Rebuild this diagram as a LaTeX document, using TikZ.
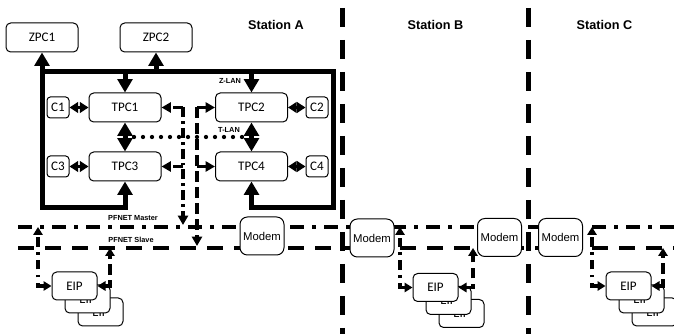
\documentclass[tikz,border=0pt]{standalone}
\usepackage{fontspec}
\setmainfont{Carlito}
\newfontfamily\arialfont{Liberation Sans}
\usetikzlibrary{arrows.meta,calc,backgrounds}

\begin{document}
\begin{tikzpicture}[x=0.75pt, y=-0.75pt,
    box/.style={draw, fill=white, line width=0.75pt, rounded corners=3.5pt, inner sep=0pt, font=\fontsize{9.8}{11}\selectfont},
    pcbox/.style={box, minimum width=54pt, minimum height=21.75pt},
    cbox/.style={box, rounded corners=2.5pt, minimum width=16.5pt, minimum height=15.75pt},
    modembox/.style={box, rounded corners=5.5pt, minimum width=33pt, minimum height=28.5pt, font=\arialfont\fontsize{8.5}{10}\selectfont},
    eipbox/.style={box, minimum width=33.75pt, minimum height=21pt},
    station/.style={font=\arialfont\bfseries\fontsize{9.5}{11}\selectfont},
    lanlabel/.style={inner sep=0pt, font=\arialfont\bfseries\fontsize{5.5}{6}\selectfont},
    zlan/.style={line width=3.75pt},
    cconn/.style={line width=2.25pt},
    tlan/.style={line width=3.2pt, line cap=round, dash pattern=on 0pt off 6.75pt},
    master/.style={line width=3.4pt, dash pattern=on 10.5pt off 6pt on 3pt off 6pt},
    slave/.style={line width=3.4pt, dash pattern=on 12pt off 8.25pt},
    tconm/.style={line width=2.6pt, dash pattern=on 7.5pt off 3pt on 2pt off 3pt},
    tcons/.style={line width=2.6pt, dash pattern=on 8pt off 4pt},
    econm/.style={line width=2.6pt, dash pattern=on 7pt off 4pt on 2pt off 4pt},
    econs/.style={line width=2.6pt, dash pattern=on 8pt off 4pt},
    divider/.style={line width=3.75pt, dash pattern=on 14.25pt off 9.75pt},
    Zhead/.tip={Triangle[width=11pt,length=10pt]},
    Chead/.tip={Triangle[width=8pt,length=6.5pt]},
    Thead/.tip={Triangle[width=7.5pt,length=7pt]},
    Ehead/.tip={Triangle[width=7pt,length=6pt]}]
  \useasboundingbox (0,0) rectangle (674,334);

  \node[station] (stA) at (276,25) {Station A};
  \node[station] (stB) at (435.5,25) {Station B};
  \node[station] (stC) at (604.5,25) {Station C};
  \foreach \x in {342,528} { \draw[divider] (\x,8) -- (\x,334); }

  \node[pcbox] (zpc1) at (42,37.5) {ZPC1};
  \node[pcbox] (zpc2) at (156,37.5) {ZPC2};
  \node[pcbox] (tpc1) at (125,107.5) {TPC1};
  \node[pcbox] (tpc2) at (251.5,107.5) {TPC2};
  \node[pcbox] (tpc3) at (125,166.5) {TPC3};
  \node[pcbox] (tpc4) at (251.5,166.5) {TPC4};
  \node[cbox] (c1) at (58,107.5) {C1};
  \node[cbox] (c2) at (317,107.5) {C2};
  \node[cbox] (c3) at (58,166.5) {C3};
  \node[cbox] (c4) at (317,166.5) {C4};

  \node[modembox] (modemA) at (262,236) {Modem};
  \node[modembox] (modemB1) at (372,238) {Modem};
  \node[modembox] (modemB2) at (499.5,237.5) {Modem};
  \node[modembox] (modemC) at (560.5,237.5) {Modem};

  \foreach \s/\x/\y in {A/74.5/286, B/435.5/287.5, C/628.5/286} {
    \node[eipbox] (eip\s3) at (\x+26,\y+26) {EIP};
    \node[eipbox] (eip\s2) at (\x+13,\y+13) {EIP};
    \node[eipbox] (eip\s) at (\x,\y) {EIP};
  }

  \coordinate (zNW) at (42,72);
  \coordinate (zNE) at (333,72);
  \coordinate (zSW) at (42,208);
  \coordinate (zSE) at (333,208);
  \coordinate (mW) at (18,227);
  \coordinate (mE) at (674,227);
  \coordinate (sW) at (18,248);
  \coordinate (sE) at (674,248);
  \coordinate (tm) at (183,107.5);
  \coordinate (tmEnd) at (183,225);
  \coordinate (ts) at (197,107.5);
  \coordinate (tsEnd) at (197,246);

  \draw[zlan, Zhead-Zhead] (tpc3.south) |- (zSW) -- (zpc1.south);
  \draw[zlan, line cap=rect, -Zhead] (zNW) -- (zNE) -- (zSE) -| (tpc4.south);
  \draw[zlan, -Zhead] (zpc2.south |- zNW) -- (zpc2.south);
  \draw[zlan, -Zhead] (tpc1.north |- zNW) -- (tpc1.north);
  \draw[zlan, -Zhead] (tpc2.north |- zNW) -- (tpc2.north);
  \node[lanlabel] (zlabel) at (230,81) {Z-LAN};

  \draw[tlan] ($(tpc1.south)!0.5!(tpc3.north)$) -- ($(tpc2.south)!0.5!(tpc4.north)$);
  \draw[zlan, Zhead-Zhead] (tpc1.south) -- (tpc3.north);
  \draw[zlan, Zhead-Zhead] (tpc2.south) -- (tpc4.north);
  \node[lanlabel] (tlabel) at (229,130) {T-LAN};

  \draw[cconn, Chead-Chead] (c1.east) -- (tpc1.west);
  \draw[cconn, Chead-Chead] (c3.east) -- (tpc3.west);
  \draw[cconn, Chead-Chead] (tpc2.east) -- (c2.west);
  \draw[cconn, Chead-Chead] (tpc4.east) -- (c4.west);

  \draw[tconm, -Thead] (tm) -- (tpc1.east);
  \draw[tconm, -Thead] (tm |- tpc3.east) -- (tpc3.east);
  \draw[tconm, -Thead] (tm) -- (tmEnd);
  \draw[tcons, -Thead] (ts) -- (tpc2.west);
  \draw[tcons, -Thead] (ts |- tpc4.west) -- (tpc4.west);
  \draw[tcons, -Thead] (ts) -- (tsEnd);

  \begin{scope}[on background layer]
    \draw[master] (mW) -- (modemC.west |- mW);
    \draw[slave] (sW) -- (modemB1.west |- sW);
  \end{scope}
  \node[lanlabel] (mlabel) at (133,218) {PFNET Master};
  \node[lanlabel] (slabel) at (131,240) {PFNET Slave};

  \foreach \s/\xl/\xr in {A/38/110, B/400/473, C/592/663} {
    \coordinate (up\s) at (\xl,227);
    \coordinate (us\s) at (\xr,248);
    \draw[econm, Ehead-Ehead] (eip\s.west) -| (up\s);
    \draw[econs, Ehead-Ehead] (eip\s.east) -| (us\s);
  }
  \begin{scope}[on background layer]
    \draw[slave] (upB |- sW) -- (modemC.west |- sW);
    \draw[master] (upC) -- (mE);
    \draw[slave] (upC |- sW) -- (sE);
  \end{scope}
\end{tikzpicture}
\end{document}
